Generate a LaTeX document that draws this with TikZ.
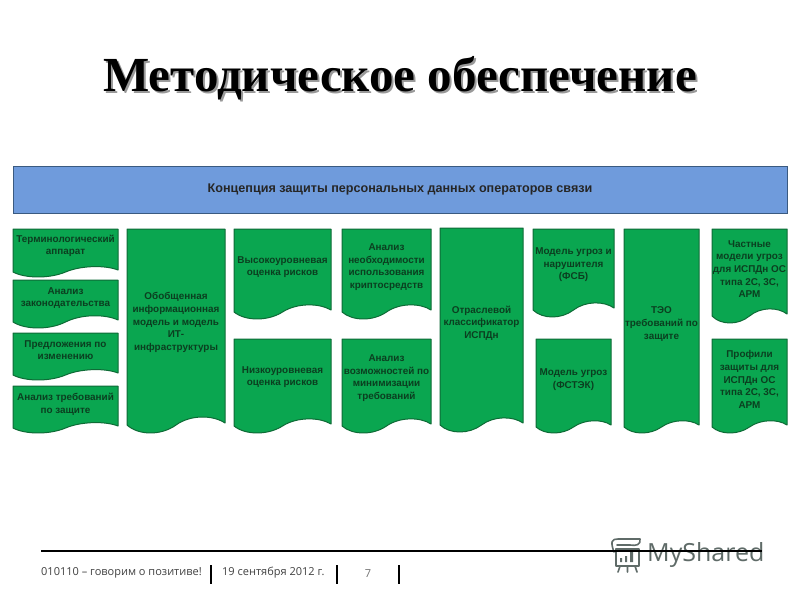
\documentclass[tikz,border=0pt]{standalone}
\usepackage{fontspec}
\setmainfont{Liberation Sans}
\newfontfamily\titlefont{Liberation Serif}
\newfontfamily\footfont{Open Sans}
\definecolor{docfill}{HTML}{0AA650}
\definecolor{docline}{HTML}{0E6B36}
\definecolor{doctext}{HTML}{0B3F20}
\definecolor{barfill}{HTML}{6F9BDC}
\definecolor{barline}{HTML}{3A5A80}
\definecolor{logogray}{HTML}{5F6B68}
\tikzset{
  docshape/.style={fill=docfill,draw=docline,line width=1pt,line join=round},
  doclabel/.style={text=doctext,align=center,inner sep=0pt,font=\fontsize{9.9}{12.6}\selectfont\bfseries},
  footlabel/.style={anchor=west,inner sep=0pt,text=black!75,font=\footfont\fontsize{11}{13}\selectfont},
  sepline/.style={line width=1.4pt,black},
  logoline/.style={draw=logogray,line width=1.6pt,line cap=round,line join=round}
}
% name, x0, y0, x1, y-bottom-left, y-lowest, text centre y, text
\newcommand{\docbox}[8]{%
  \pgfmathsetmacro{\boxw}{#4-#2}
  \pgfmathsetmacro{\boxd}{#6-#5}
  \draw[docshape] (#2,#3) -- (#4,#3) -- (#4,#5-2)
    .. controls (#4-0.12*\boxw,#5-2-\boxd*1.0) and (#2+0.65*\boxw,#5-\boxd*1.33) .. (#2+0.5*\boxw,#5)
    .. controls (#2+0.35*\boxw,#5+\boxd*1.33) and (#2+0.12*\boxw,#5+\boxd*1.33) .. (#2,#5) -- cycle;
  \node[doclabel] (#1) at ({(#2+#4)/2},#7) {#8};
}
\begin{document}
\begin{tikzpicture}[x=1pt,y=-1pt]
\useasboundingbox (0,0) rectangle (800,600);
\fill[white] (0,0) rectangle (800,600);
% title
\node[inner sep=0pt,text=black!40,font=\titlefont\fontsize{49}{53}\selectfont\bfseries] (titleshadow) at (402,80) {Методическое обеспечение};
\node[inner sep=0pt,text=black,font=\titlefont\fontsize{49}{53}\selectfont\bfseries] (title) at (400,78) {Методическое обеспечение};
% top bar
\node[draw=barline,fill=barfill,line width=0.8pt,minimum width=774pt,minimum height=47pt,inner sep=0pt,text=black!85,font=\fontsize{12.6}{14}\selectfont\bfseries] (bar) at (400,189.5) {Концепция защиты персональных данных операторов связи};
% column 1
\docbox{a1}{13}{229}{118}{272}{277}{246}{Терминологический\\аппарат}
\docbox{a2}{13}{280}{118}{322}{328}{298}{Анализ\\законодательства}
\docbox{a3}{13}{333}{118}{375}{380}{350}{Предложения по\\изменению}
\docbox{a4}{13}{386}{118}{428}{433}{404}{Анализ требований\\по защите}
% column 2
\docbox{b1}{127}{229}{225}{425}{433}{322.5}{Обобщенная\\информационная\\модель и модель\\ИТ-\\инфраструктуры}
% column 3
\docbox{c1}{234}{229}{331}{312}{319}{267}{Высокоуровневая\\оценка рисков}
\docbox{c2}{234}{339}{331}{426}{433}{377}{Низкоуровневая\\оценка рисков}
% column 4
\docbox{d1}{342}{229}{431}{312}{319}{267}{Анализ\\необходимости\\использования\\криптосредств}
\docbox{d2}{342}{339}{431}{426}{433}{378}{Анализ\\возможностей по\\минимизации\\требований}
% column 5
\docbox{e1}{440}{228}{523}{425}{432}{323}{Отраслевой\\классификатор\\ИСПДн}
% column 6
\docbox{f1}{533}{229}{614}{310}{317}{265}{Модель угроз и\\нарушителя\\(ФСБ)}
\docbox{f2}{536}{339}{611}{427}{433}{379.5}{Модель угроз\\(ФСТЭК)}
% column 7
\docbox{g1}{624}{229}{699}{427}{433}{324}{ТЭО\\требований по\\защите}
% column 8
\docbox{h1}{712}{229}{787}{316}{323}{269}{Частные\\модели угроз\\для ИСПДн ОС\\типа 2С, 3С,\\АРМ}
\docbox{h2}{712}{339}{787}{427}{433}{379.5}{Профили\\защиты для\\ИСПДн ОС\\типа 2С, 3С,\\АРМ}
% logo
\draw[logoline] (616,549) rectangle (639,566);
\draw[logoline] (614,552) .. controls (610,541) and (612,539) .. (618,539) -- (640,539) .. controls (641,545) and (636,546) .. (630,545) -- (617,545);
\draw[logoline] (620,566) -- (618,572) (627.5,566) -- (627.5,572) (635,566) -- (637,572);
\fill[logogray] (620,558) rectangle (622,562) (625,556) rectangle (627,562) (630,552) rectangle (633,562);
\node[anchor=west,inner sep=0pt,text=logogray,font=\footfont\fontsize{25}{28}\selectfont] (logo) at (647,555) {MyShared};
% footer
\coordinate (ruleL) at (41,551);
\coordinate (ruleR) at (762,551);
\draw[line width=1.6pt,black] (ruleL) -- (ruleR);
\node[footlabel] (f1text) at (41,573) {010110 – говорим о позитиве!};
\node[footlabel] (f2text) at (222,573) {19 сентября 2012 г.};
\node[footlabel,anchor=center,text=black!55] (f3text) at (368,574) {7};
\draw[sepline] (211,565) -- (211,584);
\draw[sepline] (337,565) -- (337,584);
\draw[sepline] (399,565) -- (399,584);
\end{tikzpicture}
\end{document}
